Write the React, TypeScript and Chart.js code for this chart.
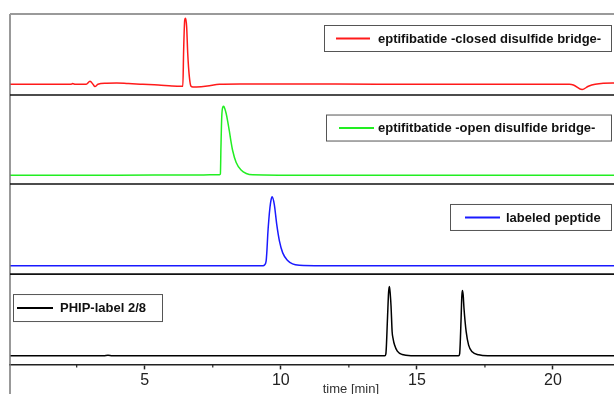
import { useEffect, useRef } from "react";
import { Chart, registerables } from "chart.js";

Chart.register(...registerables);

// ---- data (time in min, signal in arbitrary units, baseline = 0) ----
const redTime = [0.05, 2.3, 2.35, 2.45, 2.85, 2.99, 3.1, 3.17, 3.28, 3.6, 3.97, 4.4, 4.93, 5.5, 6.0, 6.33, 6.4, 6.43, 6.47, 6.5, 6.54, 6.58, 6.64, 6.7, 6.77, 6.9, 7.3, 7.75, 8.5, 12, 16, 20.6, 20.75, 21.07, 21.3, 21.55, 22.2, 25.1];
const redSignal = [0, 0, 1, 0, 0, 4.6, 0, -3.5, 0, 1.5, 2, 1, 0, -1, -2.5, -3, -3, 51.8, 97.4, 100, 87.2, 46.7, 11.1, -3, -4.1, -4, -2.5, 0, 0.5, 0.3, 0, 0, -1, -8, -3, 0, 2, 0];

const greenTime = [0.05, 4, 7.0, 7.75, 7.78, 7.8, 7.83, 7.87, 7.9, 7.94, 7.99, 8.05, 8.11, 8.17, 8.23, 8.36, 8.54, 8.73, 8.97, 10, 25.1];
const greenSignal = [0, 0.2, 0.5, 1, 2, 40, 85, 99, 100, 97, 90, 78, 64, 49, 36, 18.5, 7.6, 2.6, 0.7, 0.3, 0];

const blueTime = [0.05, 9.35, 9.4, 9.46, 9.49, 9.52, 9.56, 9.6, 9.64, 9.68, 9.76, 9.85, 9.95, 10.07, 10.25, 10.43, 10.68, 11.5, 25.1];
const blueSignal = [0, 0, 1, 6.5, 22, 45, 67, 84, 95, 100, 89, 60, 35.7, 18.6, 7.6, 2.6, 0.7, 0, 0];

const blackTime = [0.05, 3.5, 3.65, 3.8, 13.82, 13.86, 13.92, 13.96, 13.99, 14.02, 14.05, 14.09, 14.13, 14.18, 14.28, 14.46, 14.8, 16.53, 16.57, 16.62, 16.65, 16.67, 16.7, 16.73, 16.81, 16.9, 17.03, 17.27, 17.6, 25.1];
const blackSignal = [0, 0, 0.8, 0, 0, 3, 55, 92, 100.4, 90, 72, 35, 24, 15.6, 6.8, 1.9, 0.3, 0, 3, 50, 86, 94.6, 88, 69, 35, 15.6, 5.8, 1.5, 0.2, 0];

const seriesLabels = [
  "eptifibatide -closed disulfide bridge-",
  "eptifitbatide -open disulfide bridge-",
  "labeled peptide",
  "PHIP-label 2/8",
];
const seriesColors = ["#ff1a1a", "#22ee22", "#1a1aff", "#000000"];

// panel y ranges (red, green, blue, black)
const panelMin = [-16.3, -12.5, -12.1, -12.4];
const panelMax = [106.5, 116.4, 118.5, 118.6];
const panelWeight = [80.7, 88.6, 89.7, 90];

const xMin = 0.05;
const xMax = 25.1;
const xTicks = [5, 10, 15, 20, 25];
const xMinorTicks = [2.5, 7.5, 12.5, 17.5, 22.5];
const xTitle = "time [min]";

const panelIds = ["yRed", "yGreen", "yBlue", "yBlack"];

// legend box geometry relative to chart left / panel top (style only)
const legendBoxes = [
  { x: 314, y: 11, w: 287, h: 26, lx0: 12, lx1: 46, tx: 54 },
  { x: 316, y: 19.5, w: 285, h: 26, lx0: 13, lx1: 48, tx: 52 },
  { x: 440, y: 20, w: 161, h: 26, lx0: 15, lx1: 50, tx: 56 },
  { x: 3, y: 20, w: 149, h: 27, lx0: 4, lx1: 40, tx: 47 },
];

const FONT = 'Arial, "Liberation Sans", sans-serif';

const panelPlugin = {
  id: "panelDecor",
  afterDraw(chart: any) {
    const ctx = chart.ctx as CanvasRenderingContext2D;
    const area = chart.chartArea;
    ctx.save();
    // left frame line
    ctx.strokeStyle = "#777";
    ctx.lineWidth = 1.5;
    ctx.beginPath();
    ctx.moveTo(area.left, area.top);
    ctx.lineTo(area.left, chart.height);
    ctx.stroke();
    // top border
    ctx.strokeStyle = "#9a9a9a";
    ctx.lineWidth = 2;
    ctx.beginPath();
    ctx.moveTo(area.left, area.top);
    ctx.lineTo(area.right, area.top);
    ctx.stroke();
    // separators
    ctx.strokeStyle = "#111";
    ctx.lineWidth = 1.7;
    panelIds.forEach((id, i) => {
      if (i === 0) return;
      const s = chart.scales[id];
      ctx.beginPath();
      ctx.moveTo(area.left, s.top);
      ctx.lineTo(area.right, s.top);
      ctx.stroke();
    });
    // minor ticks
    const xs = chart.scales.x;
    ctx.strokeStyle = "#222";
    ctx.lineWidth = 1.2;
    xMinorTicks.forEach((v) => {
      const px = xs.getPixelForValue(v);
      ctx.beginPath();
      ctx.moveTo(px, xs.top);
      ctx.lineTo(px, xs.top + 3);
      ctx.stroke();
    });
    // legends
    ctx.font = "bold 13px " + FONT;
    ctx.textBaseline = "middle";
    ctx.textAlign = "left";
    panelIds.forEach((id, i) => {
      const s = chart.scales[id];
      const b = legendBoxes[i];
      const bx = area.left + b.x;
      const by = s.top + b.y;
      ctx.fillStyle = "#fff";
      ctx.fillRect(bx, by, b.w, b.h);
      ctx.strokeStyle = "#555";
      ctx.lineWidth = 1;
      ctx.strokeRect(bx + 0.5, by + 0.5, b.w, b.h);
      const cy = by + b.h / 2 + 0.5;
      ctx.strokeStyle = seriesColors[i];
      ctx.lineWidth = 2;
      ctx.beginPath();
      ctx.moveTo(bx + b.lx0, cy);
      ctx.lineTo(bx + b.lx1, cy);
      ctx.stroke();
      ctx.fillStyle = "#111";
      ctx.fillText(seriesLabels[i], bx + b.tx, cy + 0.5);
    });
    ctx.restore();
  },
};

function toPoints(t: number[], v: number[]) {
  return t.map((x, i) => ({ x, y: v[i] }));
}

export default function App() {
  const ref = useRef<HTMLCanvasElement | null>(null);
  useEffect(() => {
    if (!ref.current) return;
    const times = [redTime, greenTime, blueTime, blackTime];
    const signals = [redSignal, greenSignal, blueSignal, blackSignal];
    const datasets = panelIds.map((id, i) => ({
      label: seriesLabels[i],
      data: toPoints(times[i], signals[i]),
      yAxisID: id,
      borderColor: seriesColors[i],
      borderWidth: 1.5,
      pointRadius: 0,
      fill: false,
      cubicInterpolationMode: "monotone" as const,
    }));
    const yScale = (i: number) => ({
      type: "linear" as const,
      position: "left" as const,
      stack: "panels",
      stackWeight: panelWeight[i],
      min: panelMin[i],
      max: panelMax[i],
      display: false,
    });
    const chart = new Chart(ref.current, {
      type: "line",
      data: { datasets },
      plugins: [panelPlugin],
      options: {
        animation: false,
        responsive: true,
        maintainAspectRatio: false,
        layout: { padding: { left: 10, top: 14, right: 6, bottom: 4.4 } },
        plugins: { legend: { display: false }, tooltip: { enabled: false } },
        scales: {
          x: {
            type: "linear",
            position: "bottom",
            min: xMin,
            max: xMax,
            afterBuildTicks: (scale: any) => {
              scale.ticks = xTicks.map((v) => ({ value: v }));
            },
            grid: {
              display: true,
              drawOnChartArea: false,
              drawTicks: true,
              tickLength: 5,
              tickColor: "#222",
              tickWidth: 1.5,
            },
            border: { display: true, color: "#222", width: 1.5 },
            ticks: {
              color: "#222",
              padding: 2,
              font: { family: FONT, size: 16, lineHeight: 1.1 },
              maxRotation: 0,
              autoSkip: false,
            },
            title: {
              display: true,
              text: xTitle,
              color: "#333",
              font: { family: FONT, size: 13, lineHeight: 1.2 },
              padding: { top: -9, bottom: -2 },
            },
          },
          yBlack: yScale(3),
          yBlue: yScale(2),
          yGreen: yScale(1),
          yRed: yScale(0),
        },
      },
    } as any);
    return () => chart.destroy();
  }, []);
  return (
    <div style={{ position: "fixed", left: 0, top: 0, width: 614, height: 394, overflow: "hidden", background: "#fff" }}>
      <div style={{ position: "relative", width: 700, height: 400 }}>
        <canvas ref={ref} />
      </div>
    </div>
  );
}
